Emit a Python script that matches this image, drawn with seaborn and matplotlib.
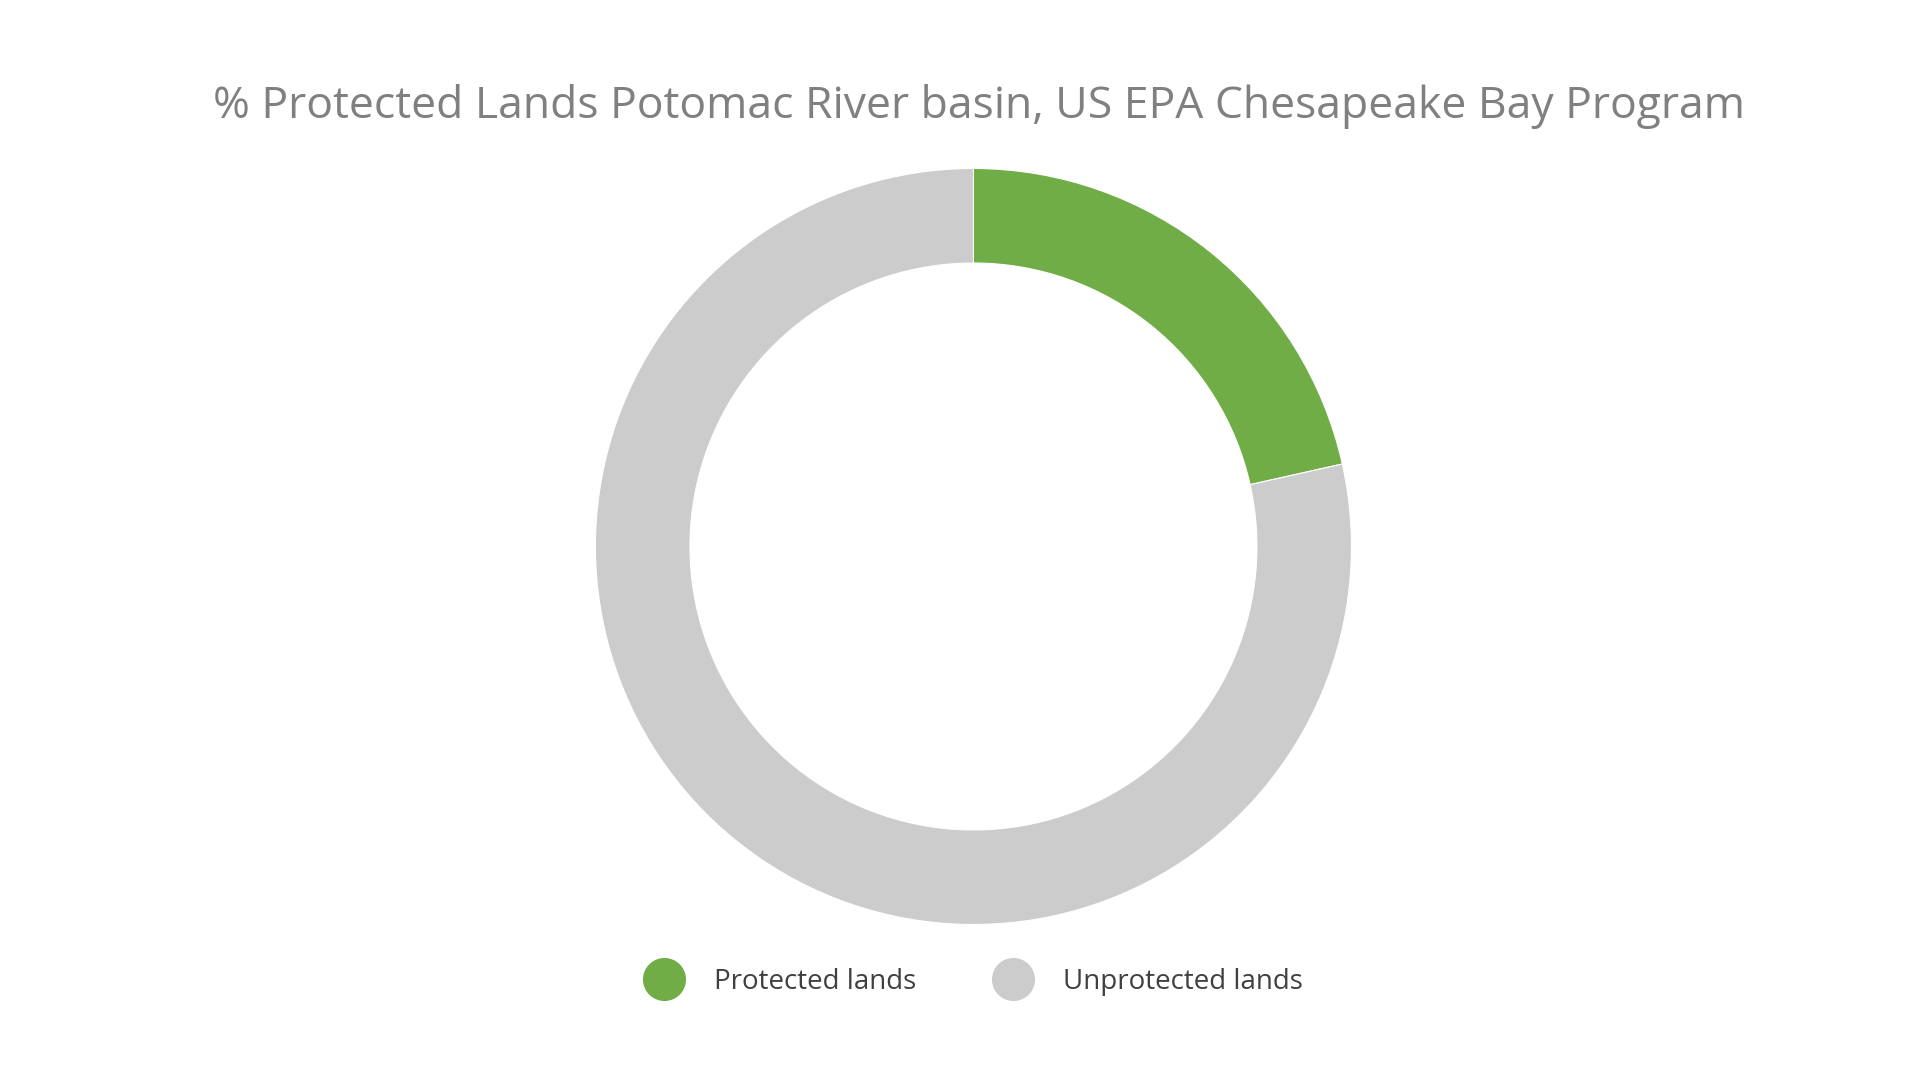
import matplotlib
matplotlib.use("Agg")
import matplotlib.pyplot as plt
import seaborn as sns
from matplotlib.lines import Line2D

categories = ["Protected lands", "Unprotected lands"]
values = [21.5, 78.5]
colors = ["#70AD47", "#CCCCCC"]
title = "% Protected Lands Potomac River basin, US EPA Chesapeake Bay Program"

sns.set_theme(style="white")
plt.rcParams['font.family'] = ['Open Sans', 'DejaVu Sans']

fig = plt.figure(figsize=(19.2, 10.8), dpi=100)
fig.patch.set_facecolor("white")
H = 0.875
ax = fig.add_axes([0.507 - H * 1080 / 1920 / 2, 0.494 - H / 2, H * 1080 / 1920, H])
ax.pie(values, colors=colors, startangle=90, counterclock=False,
       wedgeprops=dict(width=0.25, edgecolor="white", linewidth=0.8))
ax.set_aspect("equal")
ax.axis("off")

fig.text(0.51, 0.901, title, ha="center", va="center", fontsize=32, color="#808080")

handles = [Line2D([0], [0], marker="o", linestyle="", markersize=30,
                  markerfacecolor=c, markeredgecolor=c) for c in colors]
fig.legend(handles, categories, loc="center", bbox_to_anchor=(0.505, 0.091), ncol=2,
           frameon=False, fontsize=20, handletextpad=0.8, columnspacing=2.5,
           labelcolor="#404040")

fig.savefig("out.png", dpi=100, facecolor="white")
